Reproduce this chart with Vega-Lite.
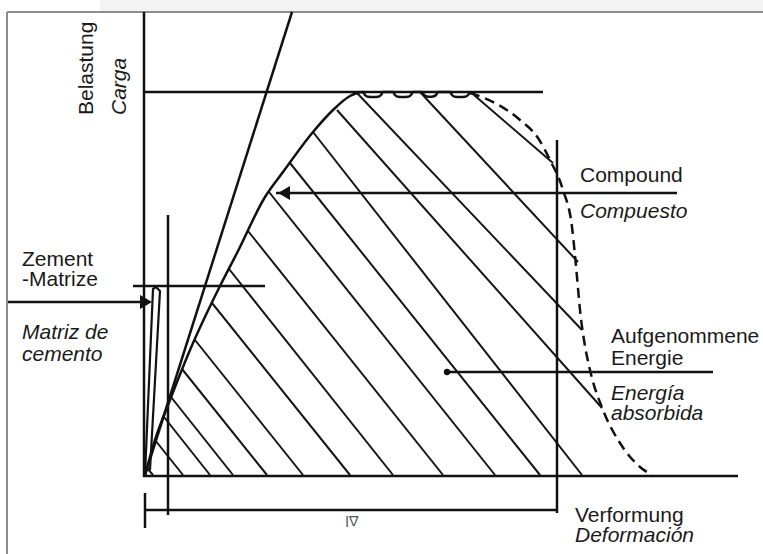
{
  "$schema": "https://vega.github.io/schema/vega-lite/v6.json",
  "width": 763,
  "height": 554,
  "padding": 0,
  "autosize": {"type": "none"},
  "background": "white",
  "config": {"view": {"stroke": null}},
  "datasets": {
    "segments": [
      {"id": "frameL", "kind": "frame", "x": -138, "y": 463, "x2": -138, "y2": -79},
      {"id": "frameT", "kind": "frame", "x": -138, "y": 463, "x2": 618, "y2": 463},
      {"id": "yaxis", "kind": "main", "x": -1, "y": 463, "x2": -1, "y2": -2},
      {"id": "xaxis", "kind": "main", "x": -2, "y": -1, "x2": 593, "y2": -1},
      {"id": "peak", "kind": "main", "x": -2, "y": 383, "x2": 398, "y2": 383},
      {"id": "tangent", "kind": "main", "x": 0, "y": 0, "x2": 147, "y2": 463},
      {"id": "endline", "kind": "main", "x": 412, "y": 335, "x2": 412, "y2": -38},
      {"id": "compoundArrow", "kind": "main", "x": 131, "y": 282, "x2": 532, "y2": 282},
      {"id": "zementArrow", "kind": "main", "x": -137, "y": 173, "x2": 3, "y2": 173},
      {"id": "zementLevel", "kind": "main", "x": -12, "y": 189, "x2": 120, "y2": 189},
      {"id": "dlStart", "kind": "main", "x": 23, "y": 260, "x2": 23, "y2": -40},
      {"id": "deform", "kind": "main", "x": 0, "y": -35, "x2": 412, "y2": -35},
      {"id": "tick", "kind": "main", "x": 0, "y": -18, "x2": 0, "y2": -53},
      {"id": "energy", "kind": "main", "x": 302, "y": 103, "x2": 568, "y2": 103},
      {"id": "h1", "kind": "hatch", "x": 2, "y": 7, "x2": 8, "y2": 0},
      {"id": "h2", "kind": "hatch", "x": 10, "y": 35, "x2": 38, "y2": 0},
      {"id": "h3", "kind": "hatch", "x": 19, "y": 58, "x2": 65, "y2": 0},
      {"id": "h4", "kind": "hatch", "x": 26, "y": 78, "x2": 88, "y2": 0},
      {"id": "h5", "kind": "hatch", "x": 37, "y": 106, "x2": 122, "y2": 0},
      {"id": "h6", "kind": "hatch", "x": 50, "y": 135, "x2": 158, "y2": 0},
      {"id": "h7", "kind": "hatch", "x": 67, "y": 172, "x2": 205, "y2": 0},
      {"id": "h8", "kind": "hatch", "x": 84, "y": 206, "x2": 248, "y2": 0},
      {"id": "h9", "kind": "hatch", "x": 103, "y": 244, "x2": 298, "y2": 0},
      {"id": "h10", "kind": "hatch", "x": 124, "y": 283, "x2": 350, "y2": 0},
      {"id": "h11", "kind": "hatch", "x": 145, "y": 312, "x2": 395, "y2": 0},
      {"id": "h12", "kind": "hatch", "x": 168, "y": 343, "x2": 437, "y2": 0},
      {"id": "h13", "kind": "hatch", "x": 192, "y": 365, "x2": 457, "y2": 67},
      {"id": "h14", "kind": "hatch", "x": 212, "y": 382, "x2": 437, "y2": 145},
      {"id": "h15", "kind": "hatch", "x": 275, "y": 383, "x2": 433, "y2": 213},
      {"id": "h16", "kind": "hatch", "x": 329, "y": 380, "x2": 408, "y2": 312}
    ],
    "curves": [
      {"id": "compound", "i": 1, "x": 0, "y": 0},
      {"id": "compound", "i": 2, "x": 10, "y": 35},
      {"id": "compound", "i": 3, "x": 25, "y": 75},
      {"id": "compound", "i": 4, "x": 45, "y": 125},
      {"id": "compound", "i": 5, "x": 75, "y": 189},
      {"id": "compound", "i": 6, "x": 92, "y": 222},
      {"id": "compound", "i": 7, "x": 120, "y": 278},
      {"id": "compound", "i": 8, "x": 138, "y": 303},
      {"id": "compound", "i": 9, "x": 168, "y": 343},
      {"id": "compound", "i": 10, "x": 188, "y": 365},
      {"id": "compound", "i": 11, "x": 205, "y": 379},
      {"id": "compound", "i": 12, "x": 218, "y": 383},
      {"id": "compound", "i": 13, "x": 220, "y": 380},
      {"id": "compound", "i": 14, "x": 223, "y": 378.3},
      {"id": "compound", "i": 15, "x": 228, "y": 378},
      {"id": "compound", "i": 16, "x": 233, "y": 378.3},
      {"id": "compound", "i": 17, "x": 236, "y": 380},
      {"id": "compound", "i": 18, "x": 238, "y": 383},
      {"id": "compound", "i": 19, "x": 248, "y": 383},
      {"id": "compound", "i": 20, "x": 250, "y": 380},
      {"id": "compound", "i": 21, "x": 253, "y": 378.3},
      {"id": "compound", "i": 22, "x": 258, "y": 378},
      {"id": "compound", "i": 23, "x": 263, "y": 378.3},
      {"id": "compound", "i": 24, "x": 266, "y": 380},
      {"id": "compound", "i": 25, "x": 268, "y": 383},
      {"id": "compound", "i": 26, "x": 277, "y": 383},
      {"id": "compound", "i": 27, "x": 279, "y": 380},
      {"id": "compound", "i": 28, "x": 282, "y": 378.5},
      {"id": "compound", "i": 29, "x": 285, "y": 378.3},
      {"id": "compound", "i": 30, "x": 288, "y": 378.5},
      {"id": "compound", "i": 31, "x": 291, "y": 380},
      {"id": "compound", "i": 32, "x": 293, "y": 383},
      {"id": "compound", "i": 33, "x": 305, "y": 383},
      {"id": "compound", "i": 34, "x": 307, "y": 380},
      {"id": "compound", "i": 35, "x": 310, "y": 378.3},
      {"id": "compound", "i": 36, "x": 315, "y": 378},
      {"id": "compound", "i": 37, "x": 320, "y": 378.3},
      {"id": "compound", "i": 38, "x": 323, "y": 380},
      {"id": "compound", "i": 39, "x": 325, "y": 383},
      {"id": "matrix", "i": 1, "x": 0, "y": 0},
      {"id": "matrix", "i": 2, "x": 8, "y": 186},
      {"id": "matrix", "i": 3, "x": 11, "y": 188},
      {"id": "matrix", "i": 4, "x": 15, "y": 184},
      {"id": "matrix", "i": 5, "x": 5, "y": 5},
      {"id": "drop", "i": 1, "x": 325, "y": 382},
      {"id": "drop", "i": 2, "x": 350, "y": 372},
      {"id": "drop", "i": 3, "x": 375, "y": 355},
      {"id": "drop", "i": 4, "x": 393, "y": 337},
      {"id": "drop", "i": 5, "x": 405, "y": 315},
      {"id": "drop", "i": 6, "x": 418, "y": 285},
      {"id": "drop", "i": 7, "x": 427, "y": 248},
      {"id": "drop", "i": 8, "x": 432, "y": 198},
      {"id": "drop", "i": 9, "x": 435, "y": 165},
      {"id": "drop", "i": 10, "x": 439, "y": 135},
      {"id": "drop", "i": 11, "x": 445, "y": 105},
      {"id": "drop", "i": 12, "x": 458, "y": 65},
      {"id": "drop", "i": 13, "x": 475, "y": 32},
      {"id": "drop", "i": 14, "x": 495, "y": 8},
      {"id": "drop", "i": 15, "x": 507, "y": 0}
    ],
    "markers": [
      {"id": "compoundHead", "shape": "triangle-left", "x": 139, "y": 282},
      {"id": "zementHead", "shape": "triangle-right", "x": 1, "y": 173}
    ],
    "dots": [
      {"id": "energyDot", "x": 302, "y": 103}
    ],
    "labels": [
      {"text": "Belastung", "style": "normal", "dir": "up", "x": -52, "y": 360},
      {"text": "Carga", "style": "italic", "dir": "up", "x": -19, "y": 360},
      {"text": "Compound", "style": "normal", "dir": "flat", "x": 435, "y": 293},
      {"text": "Compuesto", "style": "italic", "dir": "flat", "x": 435, "y": 257},
      {"text": "Zement", "style": "normal", "dir": "flat", "x": -123, "y": 209},
      {"text": "-Matrize", "style": "normal", "dir": "flat", "x": -123, "y": 189},
      {"text": "Matriz de", "style": "italic", "dir": "flat", "x": -123, "y": 136},
      {"text": "cemento", "style": "italic", "dir": "flat", "x": -123, "y": 114},
      {"text": "Aufgenommene", "style": "normal", "dir": "flat", "x": 466, "y": 132},
      {"text": "Energie", "style": "normal", "dir": "flat", "x": 466, "y": 110},
      {"text": "Energía", "style": "italic", "dir": "flat", "x": 466, "y": 75},
      {"text": "absorbida", "style": "italic", "dir": "flat", "x": 466, "y": 55},
      {"text": "Verformung", "style": "normal", "dir": "flat", "x": 430, "y": -47},
      {"text": "Deformación", "style": "italic", "dir": "flat", "x": 430, "y": -67},
      {"text": "Δl", "style": "faint", "dir": "down", "x": 207, "y": -46}
    ],
    "band": [
      {"x": -45, "x2": 618, "y": 464, "y2": 475}
    ]
  },
  "layer": [
    {
      "data": {"name": "band"},
      "mark": {"type": "rect", "color": "#f3f3f3"},
      "encoding": {
        "x": {"field": "x", "type": "quantitative", "scale": {"domain": [-145, 618], "nice": false, "zero": false}, "axis": null},
        "x2": {"field": "x2"},
        "y": {"field": "y", "type": "quantitative", "scale": {"domain": [-79, 475], "nice": false, "zero": false}, "axis": null},
        "y2": {"field": "y2"}
      }
    },
    {
      "data": {"name": "segments"},
      "transform": [{"filter": "datum.kind === 'frame'"}],
      "mark": {"type": "rule", "color": "#8c8c8c", "strokeWidth": 2},
      "encoding": {
        "x": {"field": "x", "type": "quantitative", "scale": {"domain": [-145, 618], "nice": false, "zero": false}, "axis": null},
        "x2": {"field": "x2"},
        "y": {"field": "y", "type": "quantitative", "scale": {"domain": [-79, 475], "nice": false, "zero": false}, "axis": null},
        "y2": {"field": "y2"}
      }
    },
    {
      "data": {"name": "segments"},
      "transform": [{"filter": "datum.kind === 'hatch'"}],
      "mark": {"type": "rule", "color": "#151515", "strokeWidth": 2},
      "encoding": {
        "x": {"field": "x", "type": "quantitative", "scale": {"domain": [-145, 618], "nice": false, "zero": false}, "axis": null},
        "x2": {"field": "x2"},
        "y": {"field": "y", "type": "quantitative", "scale": {"domain": [-79, 475], "nice": false, "zero": false}, "axis": null},
        "y2": {"field": "y2"}
      }
    },
    {
      "data": {"name": "segments"},
      "transform": [{"filter": "datum.kind === 'main'"}],
      "mark": {"type": "rule", "color": "#111111", "strokeWidth": 2.5},
      "encoding": {
        "x": {"field": "x", "type": "quantitative", "scale": {"domain": [-145, 618], "nice": false, "zero": false}, "axis": null},
        "x2": {"field": "x2"},
        "y": {"field": "y", "type": "quantitative", "scale": {"domain": [-79, 475], "nice": false, "zero": false}, "axis": null},
        "y2": {"field": "y2"}
      }
    },
    {
      "data": {"name": "curves"},
      "transform": [{"filter": "datum.id === 'compound'"}],
      "mark": {"type": "line", "color": "#111111", "strokeWidth": 2.5, "strokeJoin": "round", "interpolate": "monotone"},
      "encoding": {
        "x": {"field": "x", "type": "quantitative", "scale": {"domain": [-145, 618], "nice": false, "zero": false}, "axis": null},
        "y": {"field": "y", "type": "quantitative", "scale": {"domain": [-79, 475], "nice": false, "zero": false}, "axis": null},
        "order": {"field": "i", "type": "quantitative"}
      }
    },
    {
      "data": {"name": "curves"},
      "transform": [{"filter": "datum.id === 'matrix'"}],
      "mark": {"type": "line", "color": "#111111", "strokeWidth": 2.2, "strokeJoin": "round"},
      "encoding": {
        "x": {"field": "x", "type": "quantitative", "scale": {"domain": [-145, 618], "nice": false, "zero": false}, "axis": null},
        "y": {"field": "y", "type": "quantitative", "scale": {"domain": [-79, 475], "nice": false, "zero": false}, "axis": null},
        "order": {"field": "i", "type": "quantitative"}
      }
    },
    {
      "data": {"name": "curves"},
      "transform": [{"filter": "datum.id === 'drop'"}],
      "mark": {"type": "line", "color": "#111111", "strokeWidth": 2.5, "strokeDash": [10, 6], "interpolate": "monotone"},
      "encoding": {
        "x": {"field": "x", "type": "quantitative", "scale": {"domain": [-145, 618], "nice": false, "zero": false}, "axis": null},
        "y": {"field": "y", "type": "quantitative", "scale": {"domain": [-79, 475], "nice": false, "zero": false}, "axis": null},
        "order": {"field": "i", "type": "quantitative"}
      }
    },
    {
      "data": {"name": "markers"},
      "mark": {"type": "point", "filled": true, "color": "#111111", "size": 190, "opacity": 1},
      "encoding": {
        "x": {"field": "x", "type": "quantitative", "scale": {"domain": [-145, 618], "nice": false, "zero": false}, "axis": null},
        "y": {"field": "y", "type": "quantitative", "scale": {"domain": [-79, 475], "nice": false, "zero": false}, "axis": null},
        "shape": {"field": "shape", "type": "nominal", "scale": {"domain": ["triangle-left", "triangle-right"], "range": ["triangle-left", "triangle-right"]}, "legend": null}
      }
    },
    {
      "data": {"name": "dots"},
      "mark": {"type": "circle", "color": "#111111", "size": 40, "opacity": 1},
      "encoding": {
        "x": {"field": "x", "type": "quantitative", "scale": {"domain": [-145, 618], "nice": false, "zero": false}, "axis": null},
        "y": {"field": "y", "type": "quantitative", "scale": {"domain": [-79, 475], "nice": false, "zero": false}, "axis": null}
      }
    },
    {
      "data": {"name": "labels"},
      "transform": [{"filter": "datum.dir === 'flat' && datum.style === 'normal'"}],
      "mark": {"type": "text", "align": "left", "baseline": "alphabetic", "font": "Liberation Sans", "fontSize": 21, "color": "#1a1a1a"},
      "encoding": {
        "x": {"field": "x", "type": "quantitative", "scale": {"domain": [-145, 618], "nice": false, "zero": false}, "axis": null},
        "y": {"field": "y", "type": "quantitative", "scale": {"domain": [-79, 475], "nice": false, "zero": false}, "axis": null},
        "text": {"field": "text"}
      }
    },
    {
      "data": {"name": "labels"},
      "transform": [{"filter": "datum.dir === 'flat' && datum.style === 'italic'"}],
      "mark": {"type": "text", "align": "left", "baseline": "alphabetic", "font": "Liberation Sans", "fontStyle": "italic", "fontSize": 21, "color": "#1a1a1a"},
      "encoding": {
        "x": {"field": "x", "type": "quantitative", "scale": {"domain": [-145, 618], "nice": false, "zero": false}, "axis": null},
        "y": {"field": "y", "type": "quantitative", "scale": {"domain": [-79, 475], "nice": false, "zero": false}, "axis": null},
        "text": {"field": "text"}
      }
    },
    {
      "data": {"name": "labels"},
      "transform": [{"filter": "datum.dir === 'up' && datum.style === 'normal'"}],
      "mark": {"type": "text", "align": "left", "baseline": "alphabetic", "angle": 270, "font": "Liberation Sans", "fontSize": 21, "color": "#1a1a1a"},
      "encoding": {
        "x": {"field": "x", "type": "quantitative", "scale": {"domain": [-145, 618], "nice": false, "zero": false}, "axis": null},
        "y": {"field": "y", "type": "quantitative", "scale": {"domain": [-79, 475], "nice": false, "zero": false}, "axis": null},
        "text": {"field": "text"}
      }
    },
    {
      "data": {"name": "labels"},
      "transform": [{"filter": "datum.dir === 'up' && datum.style === 'italic'"}],
      "mark": {"type": "text", "align": "left", "baseline": "alphabetic", "angle": 270, "font": "Liberation Sans", "fontStyle": "italic", "fontSize": 21, "color": "#1a1a1a"},
      "encoding": {
        "x": {"field": "x", "type": "quantitative", "scale": {"domain": [-145, 618], "nice": false, "zero": false}, "axis": null},
        "y": {"field": "y", "type": "quantitative", "scale": {"domain": [-79, 475], "nice": false, "zero": false}, "axis": null},
        "text": {"field": "text"}
      }
    },
    {
      "data": {"name": "labels"},
      "transform": [{"filter": "datum.dir === 'down'"}],
      "mark": {"type": "text", "align": "center", "baseline": "middle", "angle": 180, "font": "Liberation Sans", "fontSize": 15, "color": "#555555"},
      "encoding": {
        "x": {"field": "x", "type": "quantitative", "scale": {"domain": [-145, 618], "nice": false, "zero": false}, "axis": null},
        "y": {"field": "y", "type": "quantitative", "scale": {"domain": [-79, 475], "nice": false, "zero": false}, "axis": null},
        "text": {"field": "text"}
      }
    }
  ]
}
